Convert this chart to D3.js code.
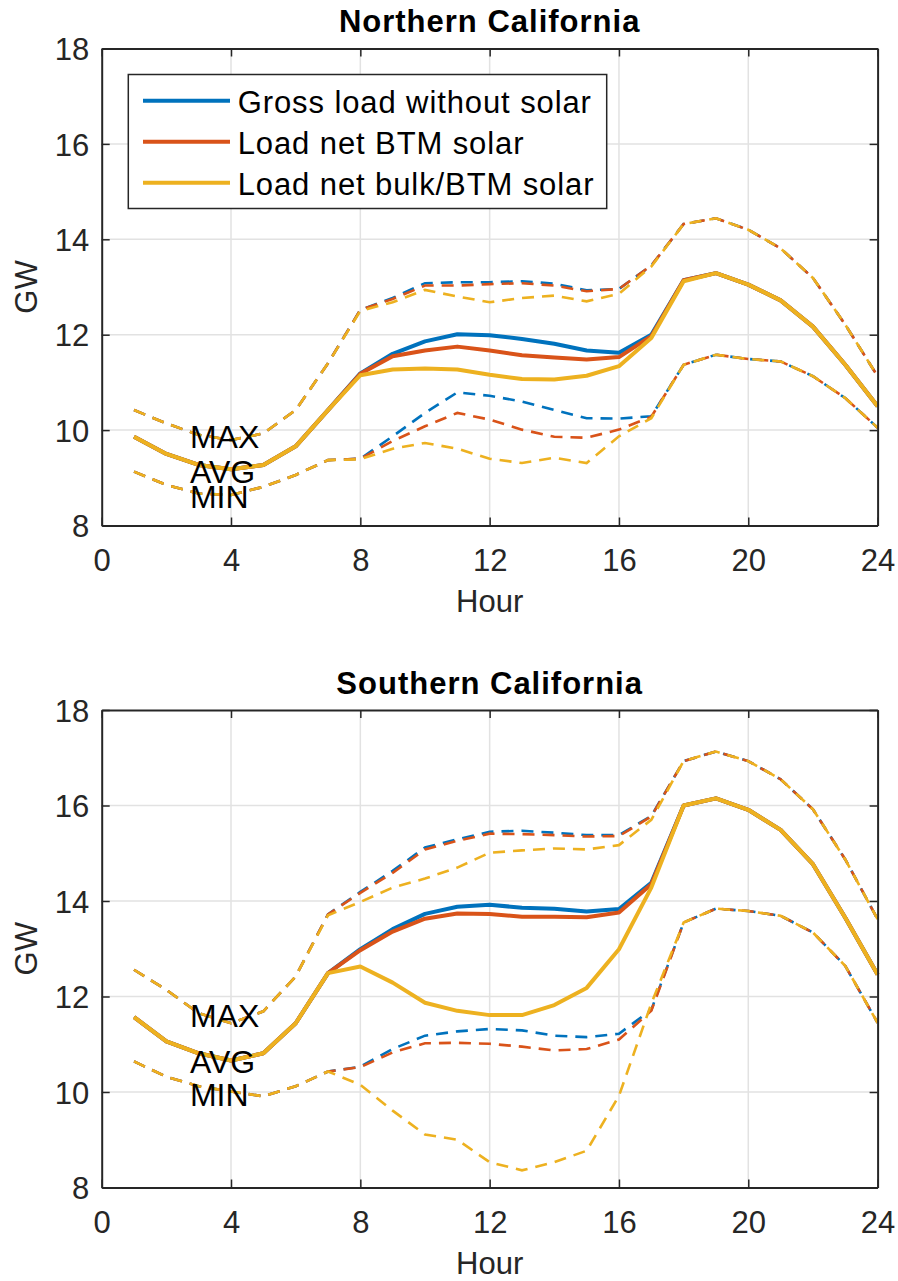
<!DOCTYPE html>
<html><head><meta charset="utf-8">
<script src="https://cdn.jsdelivr.net/npm/d3@7"></script>
<style>
body{margin:0;background:#fff}
text{font-family:"Liberation Sans",Arial,Helvetica,sans-serif}
</style>
</head><body>
<svg id="chart" width="898" height="1281"></svg>
<script>
// ---------- data ----------
const hours = [1,2,3,4,5,6,7,8,9,10,11,12,13,14,15,16,17,18,19,20,21,22,23,24];
const xTicks = [0,4,8,12,16,20,24];
const yTicks = [8,10,12,14,16,18];
const seriesNames = ["Gross load without solar","Load net BTM solar","Load net bulk/BTM solar"];
const statLabels = ["MAX","AVG","MIN"];

// Northern California
const nGrossAvg = [9.86,9.50,9.27,9.18,9.27,9.66,10.42,11.19,11.60,11.86,12.01,11.99,11.91,11.81,11.67,11.62,12.00,13.14,13.29,13.05,12.72,12.17,11.37,10.50];
const nBtmAvg   = [9.86,9.50,9.27,9.18,9.27,9.66,10.42,11.18,11.55,11.67,11.75,11.67,11.57,11.52,11.48,11.53,11.97,13.14,13.29,13.05,12.72,12.17,11.37,10.50];
const nBulkAvg  = [9.86,9.50,9.27,9.18,9.27,9.66,10.42,11.15,11.27,11.29,11.27,11.16,11.07,11.06,11.14,11.34,11.93,13.12,13.29,13.05,12.72,12.17,11.37,10.50];
const nGrossMax = [10.42,10.14,9.90,9.79,9.93,10.42,11.40,12.52,12.77,13.08,13.10,13.10,13.12,13.07,12.93,12.96,13.45,14.32,14.44,14.20,13.81,13.19,12.21,11.13];
const nBtmMax   = [10.42,10.14,9.90,9.79,9.93,10.42,11.40,12.52,12.75,13.03,13.03,13.06,13.08,13.03,12.91,12.96,13.45,14.32,14.44,14.20,13.81,13.19,12.21,11.13];
const nBulkMax  = [10.42,10.14,9.90,9.79,9.93,10.42,11.40,12.50,12.68,12.94,12.80,12.68,12.77,12.82,12.70,12.86,13.43,14.32,14.44,14.20,13.81,13.19,12.21,11.13];
const nGrossMin = [9.13,8.85,8.67,8.64,8.81,9.06,9.37,9.40,9.87,10.36,10.79,10.72,10.60,10.42,10.25,10.24,10.29,11.37,11.58,11.49,11.44,11.13,10.67,10.05];
const nBtmMin   = [9.13,8.85,8.67,8.64,8.81,9.06,9.37,9.40,9.77,10.08,10.36,10.22,10.01,9.86,9.84,10.01,10.28,11.37,11.58,11.49,11.44,11.13,10.67,10.05];
const nBulkMin  = [9.13,8.85,8.67,8.64,8.81,9.06,9.37,9.39,9.61,9.73,9.61,9.40,9.31,9.42,9.31,9.87,10.25,11.37,11.58,11.49,11.44,11.13,10.67,10.05];

// Southern California
const sGrossAvg = [11.57,11.06,10.81,10.66,10.81,11.44,12.49,12.99,13.41,13.73,13.88,13.92,13.86,13.84,13.78,13.83,14.38,16.00,16.15,15.91,15.49,14.77,13.65,12.46];
const sBtmAvg   = [11.57,11.06,10.81,10.66,10.81,11.44,12.49,12.97,13.36,13.63,13.74,13.73,13.67,13.67,13.66,13.76,14.35,16.00,16.15,15.91,15.49,14.77,13.65,12.46];
const sBulkAvg  = [11.57,11.06,10.81,10.66,10.81,11.44,12.49,12.63,12.29,11.87,11.70,11.61,11.61,11.82,12.18,12.99,14.28,16.00,16.15,15.91,15.49,14.77,13.65,12.46];
const sGrossMax = [12.56,12.14,11.65,11.44,11.69,12.42,13.72,14.19,14.63,15.12,15.29,15.45,15.47,15.43,15.38,15.38,15.78,16.93,17.13,16.93,16.55,15.92,14.87,13.62];
const sBtmMax   = [12.56,12.14,11.65,11.44,11.69,12.42,13.72,14.17,14.59,15.08,15.26,15.41,15.40,15.38,15.35,15.36,15.77,16.93,17.13,16.93,16.55,15.92,14.87,13.62];
const sBulkMax  = [12.56,12.14,11.65,11.44,11.69,12.42,13.70,13.98,14.28,14.47,14.70,15.01,15.06,15.10,15.08,15.17,15.70,16.93,17.13,16.93,16.55,15.92,14.87,13.62];
const sGrossMin = [10.64,10.32,10.12,10.01,9.91,10.12,10.43,10.53,10.90,11.18,11.27,11.32,11.29,11.18,11.15,11.22,11.72,13.55,13.84,13.79,13.69,13.34,12.64,11.45];
const sBtmMin   = [10.64,10.32,10.12,10.01,9.91,10.12,10.43,10.52,10.83,11.02,11.03,11.01,10.95,10.87,10.90,11.10,11.70,13.55,13.84,13.79,13.69,13.34,12.64,11.45];
const sBulkMin  = [10.64,10.32,10.12,10.01,9.91,10.12,10.43,10.15,9.61,9.11,9.00,8.53,8.36,8.53,8.77,9.92,11.85,13.55,13.84,13.79,13.69,13.34,12.64,11.45];

// annotation anchor positions (hour, GW) for MAX / AVG / MIN text
const nLabelHour = 2.73, nLabelValues = [9.86, 9.14, 8.60];
const sLabelHour = 2.73, sLabelValues = [11.61, 10.64, 9.94];

// ---------- drawing ----------
const colors = ["#0072BD","#D95319","#EDB120"];
const axisColor = "#262626";
const svg = d3.select("#chart");
const X0 = 101.7, X1 = 877.6;

const panels = [
  {title:"Northern California", top:48.5, bottom:525.5, legend:true,
   avg:[nGrossAvg,nBtmAvg,nBulkAvg], max:[nGrossMax,nBtmMax,nBulkMax], min:[nGrossMin,nBtmMin,nBulkMin],
   lh:nLabelHour, lv:nLabelValues},
  {title:"Southern California", top:710, bottom:1187.5, legend:false,
   avg:[sGrossAvg,sBtmAvg,sBulkAvg], max:[sGrossMax,sBtmMax,sBulkMax], min:[sGrossMin,sBtmMin,sBulkMin],
   lh:sLabelHour, lv:sLabelValues}
];

panels.forEach(p => {
  const x = d3.scaleLinear().domain([0,24]).range([X0,X1]);
  const y = d3.scaleLinear().domain([8,18]).range([p.bottom,p.top]);
  const g = svg.append("g");

  // grid
  g.append("g").selectAll("line").data(xTicks.slice(1,-1)).join("line")
    .attr("x1",d=>x(d)).attr("x2",d=>x(d)).attr("y1",p.top).attr("y2",p.bottom)
    .attr("stroke","#e2e2e2").attr("stroke-width",1.5);
  g.append("g").selectAll("line").data(yTicks.slice(1,-1)).join("line")
    .attr("y1",d=>y(d)).attr("y2",d=>y(d)).attr("x1",X0).attr("x2",X1)
    .attr("stroke","#e2e2e2").attr("stroke-width",1.5);

  // lines
  const line = d3.line().x((d,i)=>x(hours[i])).y(d=>y(d));
  [0,1,2].forEach(k => {
    [p.max[k], p.min[k]].forEach(arr => {
      g.append("path").datum(arr).attr("d",line).attr("fill","none")
        .attr("stroke",colors[k]).attr("stroke-width",2.6)
        .attr("stroke-dasharray","12,8");
    });
    g.append("path").datum(p.avg[k]).attr("d",line).attr("fill","none")
      .attr("stroke",colors[k]).attr("stroke-width",4).attr("stroke-linejoin","round");
  });

  // axes
  const fs = "31px";
  const ax = g.append("g").attr("transform",`translate(0,${p.bottom})`)
    .call(d3.axisBottom(x).tickValues(xTicks).tickSize(-8).tickSizeOuter(0));
  ax.selectAll("text").attr("y",45).attr("dy",null).style("font-size",fs).attr("fill",axisColor);
  const at = g.append("g").attr("transform",`translate(0,${p.top})`)
    .call(d3.axisTop(x).tickValues(xTicks).tickSize(-8).tickSizeOuter(0).tickFormat(""));
  const ay = g.append("g").attr("transform",`translate(${X0},0)`)
    .call(d3.axisLeft(y).tickValues(yTicks).tickSize(-8).tickSizeOuter(0));
  ay.selectAll("text").attr("x",-12.5).attr("dy","0.36em").style("font-size",fs).attr("fill",axisColor);
  const ar = g.append("g").attr("transform",`translate(${X1},0)`)
    .call(d3.axisRight(y).tickValues(yTicks).tickSize(-8).tickSizeOuter(0).tickFormat(""));
  [ax,at,ay,ar].forEach(a => {
    a.select(".domain").attr("stroke",axisColor).attr("stroke-width",2);
    a.selectAll(".tick line").attr("stroke",axisColor).attr("stroke-width",1.5);
  });

  // axis titles
  g.append("text").attr("x",(X0+X1)/2).attr("y",p.bottom+86).attr("text-anchor","middle")
    .style("font-size","31px").attr("fill",axisColor).text("Hour");
  g.append("text").attr("transform",`translate(37,${(p.top+p.bottom)/2}) rotate(-90)`)
    .attr("text-anchor","middle").style("font-size","31px").attr("fill",axisColor).text("GW");
  g.append("text").attr("x",(X0+X1)/2).attr("y",p.top-16.5).attr("text-anchor","middle")
    .style("font-size","31px").style("font-weight","bold").style("letter-spacing","1px")
    .attr("fill","#000").text(p.title);

  // MAX / AVG / MIN annotations
  g.append("g").selectAll("text").data(statLabels).join("text")
    .attr("x",x(p.lh)).attr("y",(d,i)=>y(p.lv[i])).attr("dy","0.36em")
    .style("font-size","32px").attr("fill","#000").text(d=>d);

  // legend
  if (p.legend) {
    const lg = g.append("g");
    lg.append("rect").attr("x",128.3).attr("y",74.5).attr("width",478.4).attr("height",134)
      .attr("fill","#fff").attr("stroke",axisColor).attr("stroke-width",1.5);
    const rowY = [100.7,141.7,182.7];
    seriesNames.forEach((name,i) => {
      lg.append("line").attr("x1",143).attr("x2",230).attr("y1",rowY[i]).attr("y2",rowY[i])
        .attr("stroke",colors[i]).attr("stroke-width",4);
      lg.append("text").attr("x",237.7).attr("y",rowY[i]+12.5)
        .style("font-size","31px").style("letter-spacing","0.9px").attr("fill","#000").text(name);
    });
  }
});
</script>
</body></html>
